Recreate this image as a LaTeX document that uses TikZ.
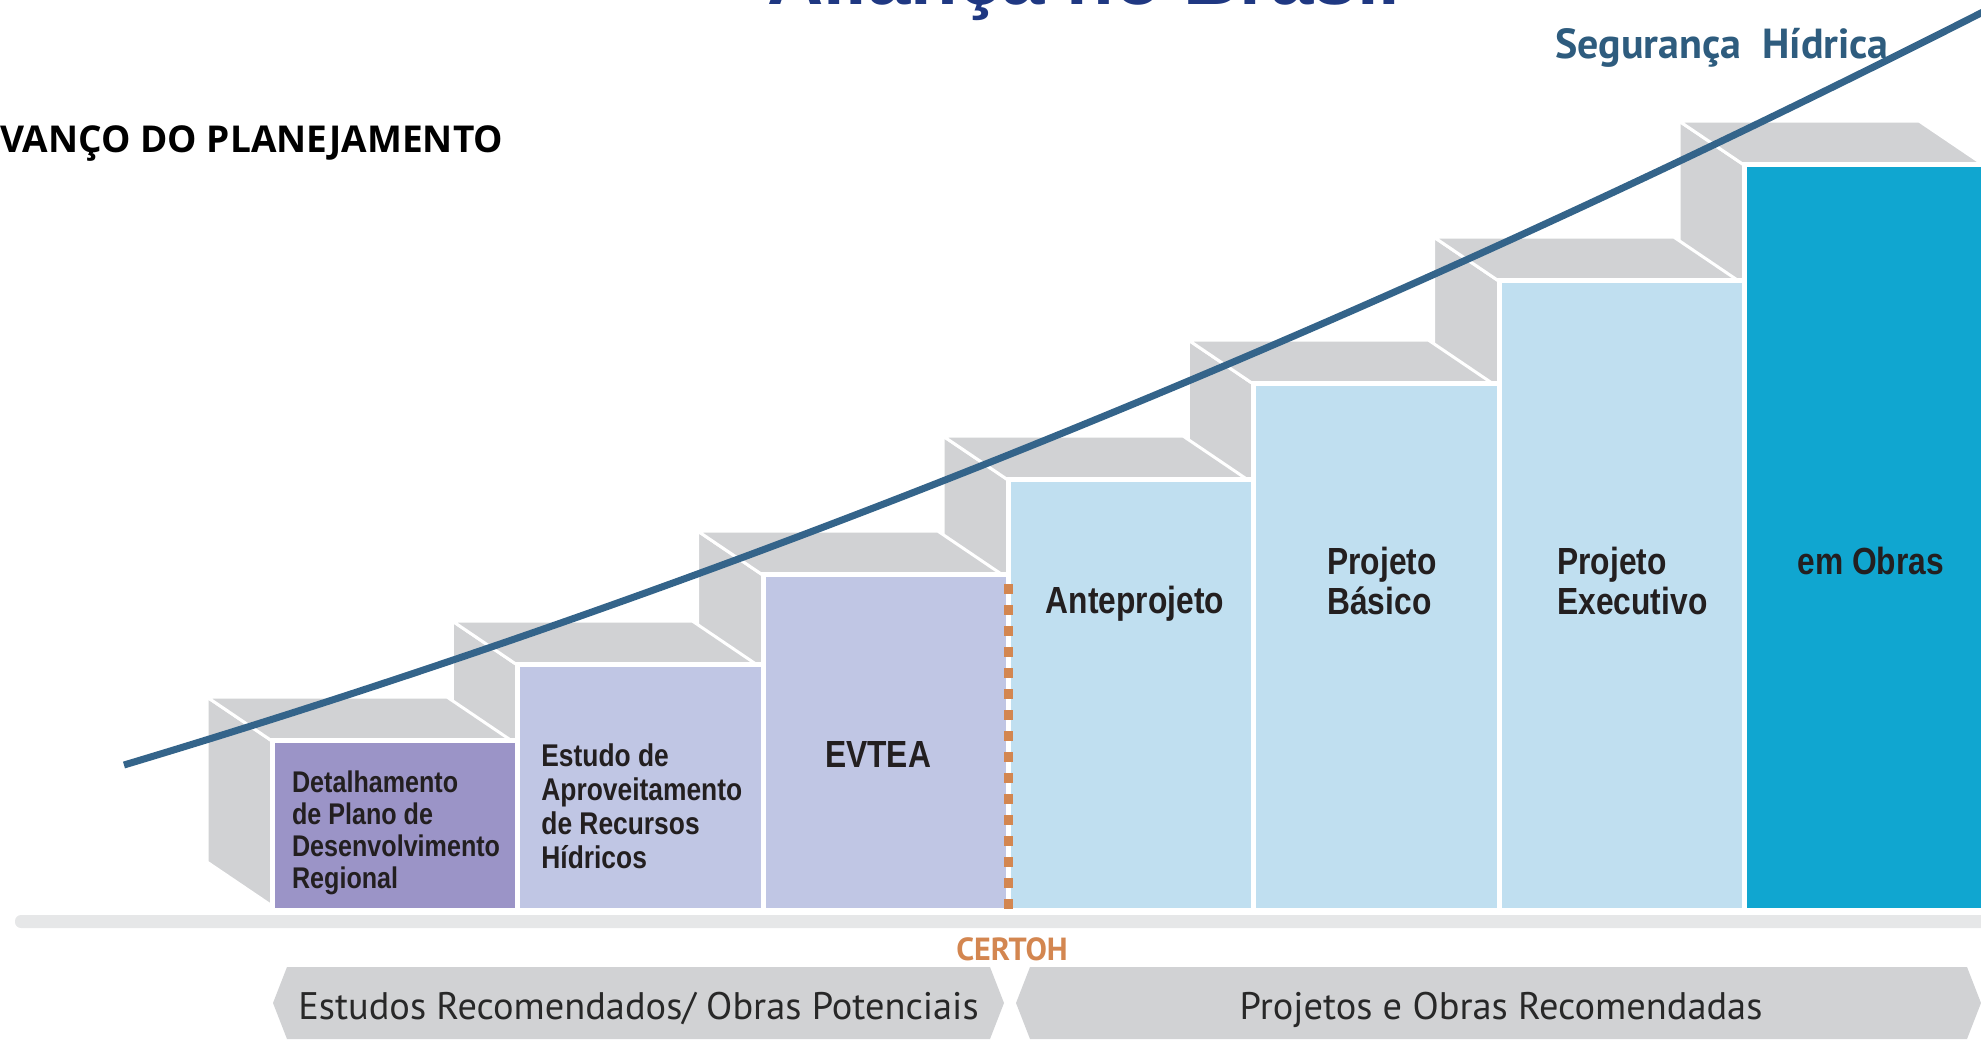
\documentclass[tikz,border=0pt]{standalone}
\usepackage{fontspec}
\setmainfont{Liberation Sans}
\newfontfamily\boxfont[FakeStretch=0.84]{Liberation Sans}
\newfontfamily\ptsans{PT Sans}
\newfontfamily\opensans{Open Sans}
\definecolor{stepgray}{RGB}{209,210,212}
\definecolor{bargray}{RGB}{230,231,232}
\definecolor{purpleA}{RGB}{155,148,199}
\definecolor{lavender}{RGB}{192,198,228}
\definecolor{lightblue}{RGB}{192,223,240}
\definecolor{cyanblue}{RGB}{16,166,208}
\definecolor{lineblue}{RGB}{52,100,138}
\definecolor{certohc}{RGB}{211,134,80}
\definecolor{segblue}{RGB}{46,92,126}
\definecolor{titleblue}{RGB}{31,56,130}
\definecolor{txt}{RGB}{35,31,32}
\definecolor{labtxt}{RGB}{40,40,40}
\tikzset{
  sideface/.style={fill=stepgray, draw=white, line width=1.5pt, line join=miter},
  frontface/.style={draw=white, line width=2.5pt},
  boxtxt/.style={text=txt, inner sep=0pt, align=left},
  smalltxt/.style={boxtxt, font=\boxfont\bfseries\fontsize{14.95}{16}\selectfont},
  midtxt/.style={boxtxt, font=\boxfont\bfseries\fontsize{15.7}{17}\selectfont},
  bigtxt/.style={boxtxt, font=\boxfont\bfseries\fontsize{18.9}{20}\selectfont},
  chevron/.style={fill=stepgray},
  chevtxt/.style={font=\ptsans\fontsize{19.2}{22}\selectfont, text=labtxt, inner sep=0pt, anchor=base}
}
\begin{document}
\begin{tikzpicture}[x=0.5pt,y=-0.5pt]
\useasboundingbox (0,0) rectangle (1981,1040);
% title (cut off at top)
\node[font=\bfseries\fontsize{39}{44}\selectfont, text=titleblue, inner sep=0pt, anchor=base] (title) at (1084,4) {Aliança no Brasil};
% headings
\node[font=\opensans\bfseries\fontsize{18.5}{22}\selectfont, text=black, inner sep=0pt, anchor=base west] (avanco) at (0,152) {VANÇO DO PLANEJAMENTO};
\node[font=\ptsans\bfseries\fontsize{21}{24}\selectfont, text=segblue, inner sep=0pt, anchor=base] (seg) at (1722,58) {Segurança\ \ Hídrica};
% ground bar
\fill[bargray, rounded corners=3pt] (15,915) rectangle (2000,928);
% steps (right to left)
\foreach \xa/\t/\c in {1747/167/cyanblue, 1501.7/283/lightblue, 1256.3/386/lightblue, 1011/482/lightblue, 765.7/577/lavender, 520.3/667/lavender, 275/743/purpleA}{
  \path[sideface] (\xa-68,\t-46) -- (\xa,\t) -- (\xa,908) -- (\xa-68,862) -- cycle;
  \path[sideface] (\xa-68,\t-46) -- (\xa+172,\t-46) -- (\xa+240,\t) -- (\xa,\t) -- cycle;
  \path[frontface, fill=\c] (\xa-2.5,\t-2.5) rectangle (\xa+242.8,910.5);
}
% CERTOH dotted divider
\coordinate (dtop) at (1008.5,584);
\coordinate (dbot) at (1008.5,913);
\draw[certohc, line width=4.5pt, dash pattern=on 4.75pt off 5.75pt] (dtop) -- (dbot);
% box texts
\node[smalltxt, anchor=west] (t1) at (291.7,832.5) {Detalhamento\\de Plano de\\Desenvolvimento\\Regional};
\node[midtxt, anchor=west] (t2) at (541,805.8) {Estudo de\\Aproveitamento\\de Recursos\\Hídricos};
\node[bigtxt] (t3) at (878,754) {EVTEA};
\node[bigtxt] (t4) at (1135,604) {Anteprojeto};
\node[bigtxt, anchor=west] (t5) at (1327,581) {Projeto\\Básico};
\node[bigtxt, anchor=west] (t6) at (1557,581) {Projeto\\Executivo};
\node[bigtxt, anchor=west] (t7) at (1797,561) {em Obras};
% CERTOH label
\node[font=\ptsans\bfseries\fontsize{16}{18}\selectfont, text=certohc, inner sep=0pt] (certoh) at (1012,949) {CERTOH};
% bottom chevrons
\path[chevron] (287,967) -- (990,967) -- (1004,1003) -- (990,1039) -- (287,1039) -- (273,1003) -- cycle;
\path[chevron] (1030,967) -- (1967,967) -- (1981,1003) -- (1967,1039) -- (1030,1039) -- (1016,1003) -- cycle;
\node[chevtxt] (lab1) at (638.5,1019) {Estudos Recomendados/ Obras Potenciais};
\node[chevtxt] (lab2) at (1501,1019) {Projetos e Obras Recomendadas};
% rising line
\coordinate (ls) at (124,765);
\coordinate (le) at (1990,8.4);
\draw[lineblue, line width=3.5pt] (ls) .. controls (744,579) and (1370,324) .. (le);
\end{tikzpicture}
\end{document}
